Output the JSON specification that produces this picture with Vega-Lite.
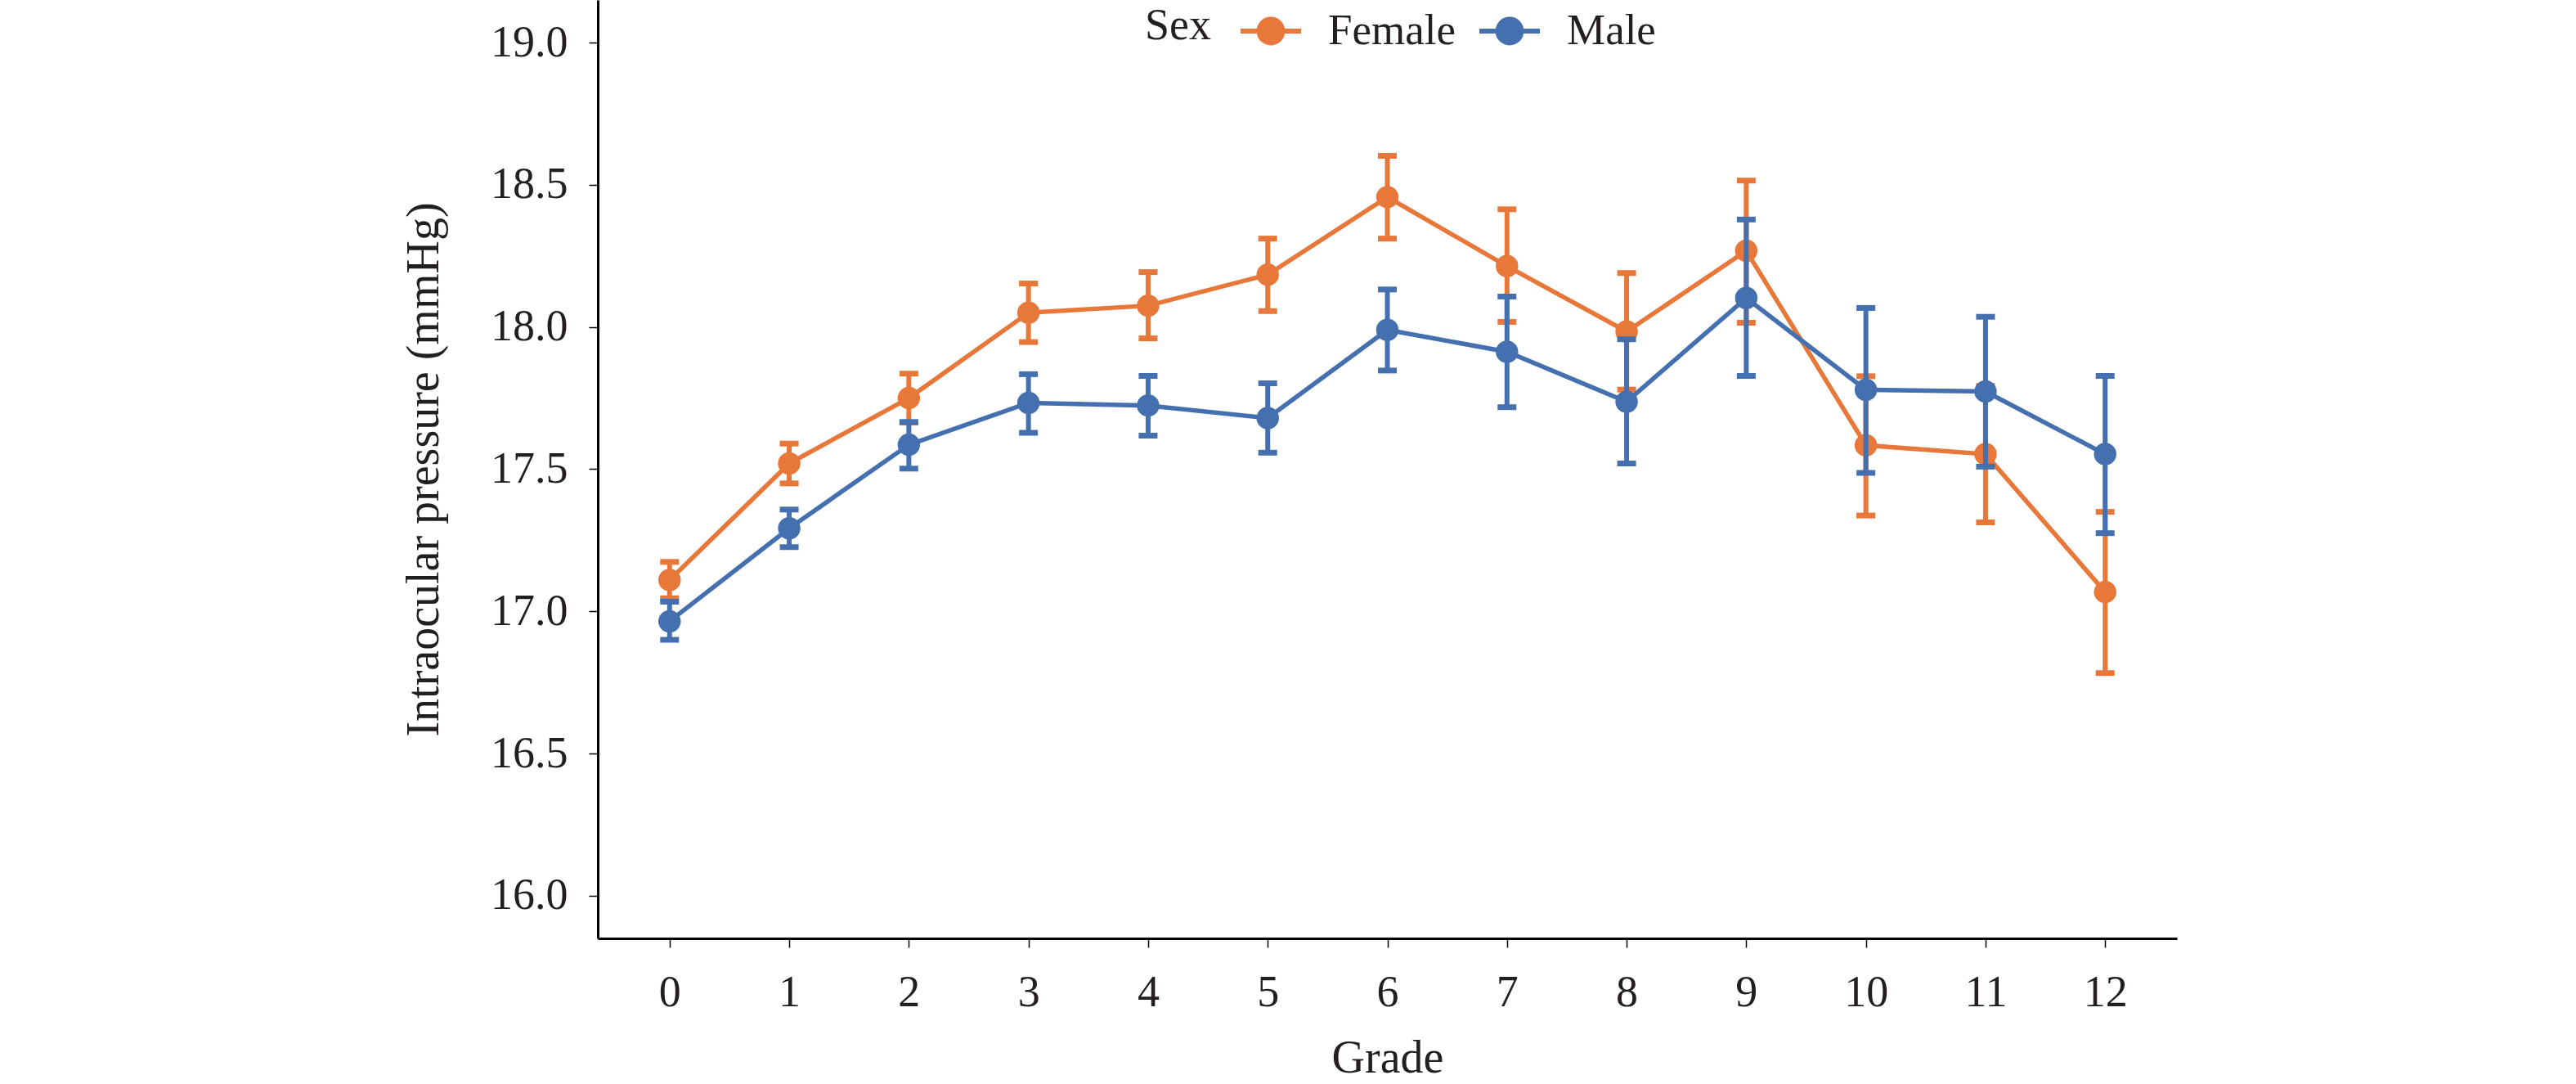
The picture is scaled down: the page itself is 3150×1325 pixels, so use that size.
{
  "$schema": "https://vega.github.io/schema/vega-lite/v6.json",
  "width": 1931,
  "height": 1147,
  "autosize": {"type": "none"},
  "padding": {"left": 731, "top": 0, "right": 488, "bottom": 178},
  "background": "white",
  "config": {
    "font": "Liberation Serif",
    "view": {"stroke": null},
    "axis": {
      "grid": false,
      "domainColor": "#000000",
      "domainWidth": 3,
      "tickColor": "#000000",
      "tickWidth": 1.5,
      "tickSize": 11,
      "labelFont": "Liberation Serif",
      "titleFont": "Liberation Serif",
      "labelFontSize": 54,
      "titleFontSize": 56,
      "titleFontWeight": "normal",
      "labelColor": "#231F20",
      "titleColor": "#231F20"
    }
  },
  "data": {
    "values": [
      {"grade": 0, "sex": "Female", "mean": 17.11, "lo": 17.046, "hi": 17.174},
      {"grade": 1, "sex": "Female", "mean": 17.52, "lo": 17.45, "hi": 17.59},
      {"grade": 2, "sex": "Female", "mean": 17.75, "lo": 17.664, "hi": 17.836},
      {"grade": 3, "sex": "Female", "mean": 18.05, "lo": 17.947, "hi": 18.153},
      {"grade": 4, "sex": "Female", "mean": 18.075, "lo": 17.96, "hi": 18.193},
      {"grade": 5, "sex": "Female", "mean": 18.184, "lo": 18.056, "hi": 18.311},
      {"grade": 6, "sex": "Female", "mean": 18.457, "lo": 18.311, "hi": 18.602},
      {"grade": 7, "sex": "Female", "mean": 18.214, "lo": 18.018, "hi": 18.414},
      {"grade": 8, "sex": "Female", "mean": 17.984, "lo": 17.78, "hi": 18.19},
      {"grade": 9, "sex": "Female", "mean": 18.268, "lo": 18.015, "hi": 18.515},
      {"grade": 10, "sex": "Female", "mean": 17.584, "lo": 17.337, "hi": 17.827},
      {"grade": 11, "sex": "Female", "mean": 17.553, "lo": 17.313, "hi": 17.793},
      {"grade": 12, "sex": "Female", "mean": 17.068, "lo": 16.783, "hi": 17.35},
      {"grade": 0, "sex": "Male", "mean": 16.965, "lo": 16.9, "hi": 17.034},
      {"grade": 1, "sex": "Male", "mean": 17.292, "lo": 17.226, "hi": 17.358},
      {"grade": 2, "sex": "Male", "mean": 17.586, "lo": 17.502, "hi": 17.666},
      {"grade": 3, "sex": "Male", "mean": 17.733, "lo": 17.628, "hi": 17.834},
      {"grade": 4, "sex": "Male", "mean": 17.724, "lo": 17.618, "hi": 17.828},
      {"grade": 5, "sex": "Male", "mean": 17.68, "lo": 17.558, "hi": 17.802},
      {"grade": 6, "sex": "Male", "mean": 17.99, "lo": 17.847, "hi": 18.132},
      {"grade": 7, "sex": "Male", "mean": 17.913, "lo": 17.718, "hi": 18.107},
      {"grade": 8, "sex": "Male", "mean": 17.737, "lo": 17.52, "hi": 17.957},
      {"grade": 9, "sex": "Male", "mean": 18.102, "lo": 17.828, "hi": 18.378},
      {"grade": 10, "sex": "Male", "mean": 17.779, "lo": 17.487, "hi": 18.067},
      {"grade": 11, "sex": "Male", "mean": 17.773, "lo": 17.509, "hi": 18.036},
      {"grade": 12, "sex": "Male", "mean": 17.553, "lo": 17.275, "hi": 17.828}
    ]
  },
  "encoding": {
    "x": {
      "field": "grade",
      "type": "quantitative",
      "scale": {"domain": [-0.6, 12.6], "nice": false, "zero": false},
      "axis": {
        "title": "Grade",
        "values": [0, 1, 2, 3, 4, 5, 6, 7, 8, 9, 10, 11, 12],
        "format": "d",
        "labelPadding": 28,
        "titlePadding": 26
      }
    },
    "color": {
      "field": "sex",
      "type": "nominal",
      "scale": {"domain": ["Female", "Male"], "range": ["#E8773A", "#4470AF"]},
      "legend": {
        "title": "Sex",
        "orient": "none",
        "legendX": 669,
        "legendY": -2,
        "direction": "horizontal",
        "titleOrient": "left",
        "titleFontSize": 54,
        "titleFontWeight": "normal",
        "titleColor": "#231F20",
        "titlePadding": 33,
        "labelFontSize": 53,
        "labelColor": "#231F20",
        "labelOffset": 30,
        "columnPadding": 17,
        "symbolType": "M-1,0L1,0M-0.39,0A0.39,0.39,0,1,1,0.39,0A0.39,0.39,0,1,1,-0.39,0Z",
        "symbolSize": 5476,
        "symbolStrokeWidth": 6,
        "encode": {
          "symbols": {
            "update": {
              "fill": {"scale": "color", "field": "value"},
              "stroke": {"scale": "color", "field": "value"},
              "strokeWidth": {"value": 6},
              "opacity": {"value": 1}
            }
          }
        }
      }
    }
  },
  "layer": [
    {
      "transform": [{"filter": "datum.sex === 'Female'"}],
      "mark": {"type": "errorbar", "thickness": 6, "rule": {"opacity": 1}, "ticks": {"size": 23, "thickness": 7, "opacity": 1}},
      "encoding": {
        "y": {"field": "lo", "type": "quantitative", "scale": {"domain": [15.85, 19.15], "nice": false, "zero": false}, "axis": {"title": "Intraocular pressure (mmHg)", "values": [16, 16.5, 17, 17.5, 18, 18.5, 19], "format": ".1f", "labelPadding": 26, "titlePadding": 52}},
        "y2": {"field": "hi"}
      }
    },
    {
      "transform": [{"filter": "datum.sex === 'Female'"}],
      "mark": {"type": "line", "strokeWidth": 5.5},
      "encoding": {
        "y": {"field": "mean", "type": "quantitative", "axis": {"title": "Intraocular pressure (mmHg)"}}
      }
    },
    {
      "transform": [{"filter": "datum.sex === 'Female'"}],
      "mark": {"type": "point", "filled": true, "size": 755, "opacity": 1},
      "encoding": {
        "y": {"field": "mean", "type": "quantitative", "axis": {"title": "Intraocular pressure (mmHg)"}}
      }
    },
    {
      "transform": [{"filter": "datum.sex === 'Male'"}],
      "mark": {"type": "errorbar", "thickness": 6, "rule": {"opacity": 1}, "ticks": {"size": 23, "thickness": 7, "opacity": 1}},
      "encoding": {
        "y": {"field": "lo", "type": "quantitative", "axis": {"title": "Intraocular pressure (mmHg)"}},
        "y2": {"field": "hi"}
      }
    },
    {
      "transform": [{"filter": "datum.sex === 'Male'"}],
      "mark": {"type": "line", "strokeWidth": 5.5},
      "encoding": {
        "y": {"field": "mean", "type": "quantitative", "axis": {"title": "Intraocular pressure (mmHg)"}}
      }
    },
    {
      "transform": [{"filter": "datum.sex === 'Male'"}],
      "mark": {"type": "point", "filled": true, "size": 755, "opacity": 1},
      "encoding": {
        "y": {"field": "mean", "type": "quantitative", "axis": {"title": "Intraocular pressure (mmHg)"}}
      }
    }
  ]
}
